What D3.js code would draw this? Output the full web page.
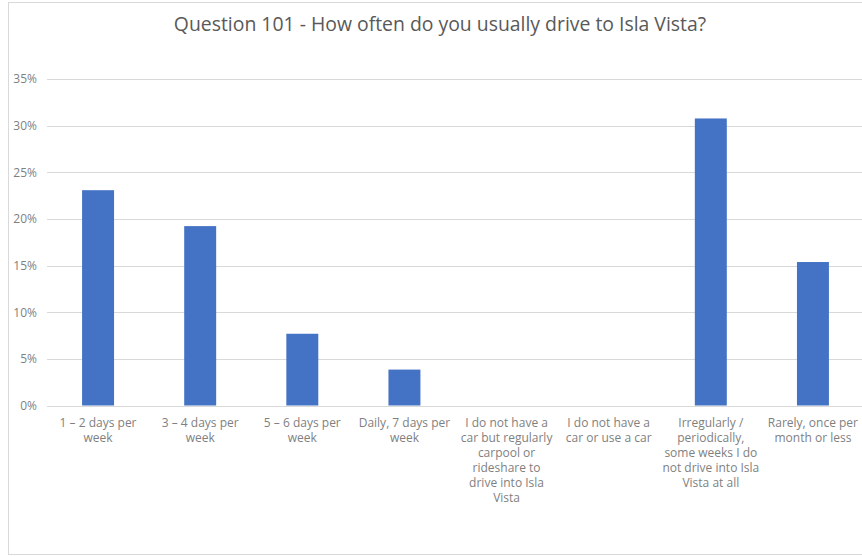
<!DOCTYPE html>
<html>
<head>
<meta charset="utf-8">
<script src="https://cdn.jsdelivr.net/npm/d3@7"></script>
<style>
  html, body { margin: 0; padding: 0; background: #fff; }
  svg { display: block; }
  text { font-family: "Open Sans", "Lato", sans-serif; }
</style>
</head>
<body>
<svg id="chart" width="862" height="556"></svg>
<script>
const title = "Question 101 - How often do you usually drive to Isla Vista?";
const categories = [
  "1 – 2 days per week",
  "3 – 4 days per week",
  "5 – 6 days per week",
  "Daily, 7 days per week",
  "I do not have a car but regularly carpool or rideshare to drive into Isla Vista",
  "I do not have a car or use a car",
  "Irregularly / periodically, some weeks I do not drive into Isla Vista at all",
  "Rarely, once per month or less"
];
const categoryLines = [
  ["1 – 2 days per", "week"],
  ["3 – 4 days per", "week"],
  ["5 – 6 days per", "week"],
  ["Daily, 7 days per", "week"],
  ["I do not have a", "car but regularly", "carpool or", "rideshare to", "drive into Isla", "Vista"],
  ["I do not have a", "car or use a car"],
  ["Irregularly /", "periodically,", "some weeks I do", "not drive into Isla", "Vista at all"],
  ["Rarely, once per", "month or less"]
];
const values = [0.2308, 0.1923, 0.0769, 0.0385, 0, 0, 0.3077, 0.1538];
const yTicks = [0, 0.05, 0.10, 0.15, 0.20, 0.25, 0.30, 0.35];

const svg = d3.select("#chart");

// outer chart border (cropped on the right)
svg.append("rect")
  .attr("x", 8.5).attr("y", 2.5)
  .attr("width", 870).attr("height", 552)
  .attr("fill", "none").attr("stroke", "#d9d9d9").attr("stroke-width", 1);

const x = d3.scaleBand()
  .domain(categories)
  .range([47, 864])
  .paddingInner(0.687)
  .paddingOuter(0.3435);

const y = d3.scaleLinear().domain([0, 0.35]).range([405.5, 79]);

// title
svg.append("text")
  .attr("x", 440).attr("y", 31)
  .attr("text-anchor", "middle")
  .attr("font-size", 19.4)
  .attr("fill", "#595959")
  .text(title);

// gridlines
const yAxis = d3.axisLeft(y)
  .tickValues(yTicks)
  .tickSize(-(862 - 47))
  .tickPadding(10)
  .tickFormat(d3.format(".0%"));

const gy = svg.append("g").attr("transform", "translate(47,0)").call(yAxis);
gy.select(".domain").remove();
gy.selectAll(".tick line").attr("stroke", "#d9d9d9").attr("stroke-width", 1)
  .attr("shape-rendering", "crispEdges");
gy.selectAll(".tick text").attr("fill", "#7f7f7f").attr("font-size", 12)
  .attr("font-family", "'Open Sans', sans-serif")
  .attr("x", -10);

// bars
svg.append("g").selectAll("rect")
  .data(values)
  .join("rect")
  .attr("x", (d, i) => x(categories[i]))
  .attr("y", d => y(d))
  .attr("width", x.bandwidth())
  .attr("height", d => y(0) - y(d))
  .attr("fill", "#4472C4");

// x axis labels
const xAxis = d3.axisBottom(x).tickSize(0).tickPadding(0).tickFormat(() => "");
const gx = svg.append("g").attr("transform", `translate(0,${y(0)})`).call(xAxis);
gx.select(".domain").attr("stroke", "#d9d9d9").attr("shape-rendering", "crispEdges");
gx.selectAll(".tick text").remove();
gx.selectAll(".tick").each(function(d, i) {
  const t = d3.select(this).append("text")
    .attr("text-anchor", "middle")
    .attr("fill", "#7f7f7f")
    .attr("font-size", 12)
    .attr("y", 21.5);
  categoryLines[i].forEach((line, j) => {
    t.append("tspan").attr("x", 0).attr("dy", j === 0 ? 0 : 15).text(line);
  });
});
</script>
</body>
</html>
